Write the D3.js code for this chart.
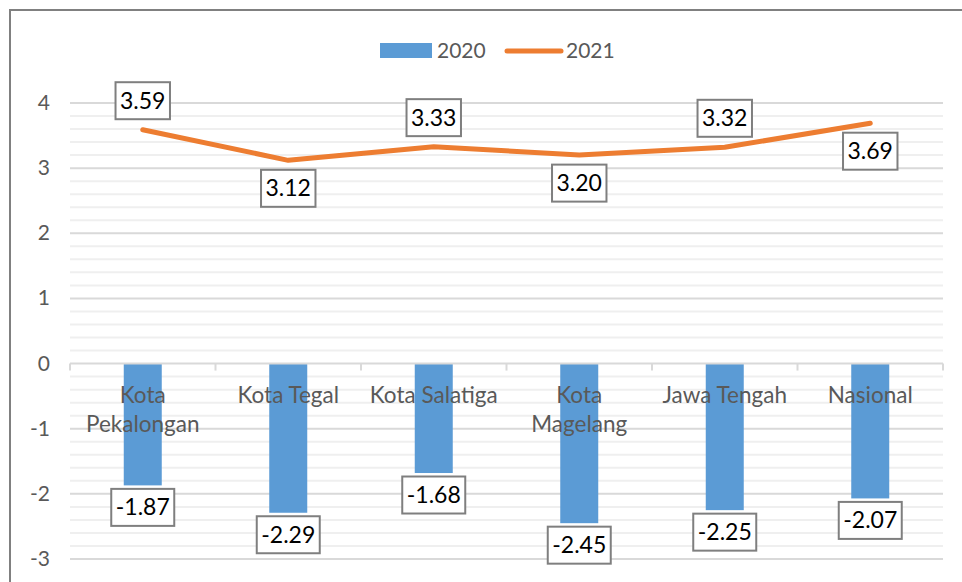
<!DOCTYPE html>
<html>
<head>
<meta charset="utf-8">
<script src="https://cdn.jsdelivr.net/npm/d3@7"></script>
<style>
  body { margin: 0; background: #fff; }
  svg { display: block; font-family: Lato, "Open Sans", sans-serif; }
</style>
</head>
<body>
<div id="chart"></div>
<script>
// data
const categories = ["Kota Pekalongan", "Kota Tegal", "Kota Salatiga", "Kota Magelang", "Jawa Tengah", "Nasional"];
const values2020 = [-1.87, -2.29, -1.68, -2.45, -2.25, -2.07];
const values2021 = [3.59, 3.12, 3.33, 3.20, 3.32, 3.69];
const yTicks = [-3, -2, -1, 0, 1, 2, 3, 4];
const seriesNames = ["2020", "2021"];

const width = 962, height = 582;
const blue = "#5b9bd5", orange = "#ed7d31";

const svg = d3.select("#chart").append("svg")
    .attr("width", width)
    .attr("height", height);

// outer chart frame (runs off the right and bottom edges)
svg.append("rect")
    .attr("x", 10).attr("y", 10)
    .attr("width", 1000).attr("height", 1000)
    .attr("fill", "#fff")
    .attr("stroke", "#808080")
    .attr("stroke-width", 2);

const x = d3.scaleBand()
    .domain(categories)
    .range([70, 943]);

const y = d3.scaleLinear()
    .domain([-3, 4])
    .range([559, 103]);

// gridlines: minor every 0.2, major every 1
const minor = d3.range(-30, 41, 2).map(d => d / 10).filter(d => !yTicks.includes(Math.round(d * 10) / 10));
const g = svg.append("g");

g.selectAll(".minor")
    .data(minor)
    .enter()
    .append("line")
    .attr("x1", 70).attr("x2", 943)
    .attr("y1", d => y(d)).attr("y2", d => y(d))
    .attr("stroke", "#efefef")
    .attr("stroke-width", 2);

g.selectAll(".major")
    .data(yTicks.filter(d => d !== 0))
    .enter()
    .append("line")
    .attr("x1", 70).attr("x2", 943)
    .attr("y1", d => y(d)).attr("y2", d => y(d))
    .attr("stroke", "#d9d9d9")
    .attr("stroke-width", 2);

// y axis tick labels
g.selectAll(".ytick")
    .data(yTicks)
    .enter()
    .append("text")
    .attr("x", 50)
    .attr("y", d => y(d) + 7)
    .attr("text-anchor", "end")
    .attr("fill", "#595959")
    .attr("font-size", 21)
    .text(d => d);

// bars (2020)
const barW = 38;
g.selectAll(".bar")
    .data(values2020)
    .enter()
    .append("rect")
    .attr("x", (d, i) => x(categories[i]) + x.bandwidth() / 2 - barW / 2)
    .attr("y", d => y(Math.max(0, d)))
    .attr("width", barW)
    .attr("height", d => Math.abs(y(d) - y(0)))
    .attr("fill", blue);

// zero axis line with tick marks
g.append("line")
    .attr("x1", 70).attr("x2", 943)
    .attr("y1", y(0)).attr("y2", y(0))
    .attr("stroke", "#d9d9d9")
    .attr("stroke-width", 2);

const tickX = categories.map(c => x(c)).concat([x.range()[1]]);
g.selectAll(".xtick")
    .data(tickX)
    .enter()
    .append("line")
    .attr("x1", d => d).attr("x2", d => d)
    .attr("y1", y(0)).attr("y2", y(0) + 7)
    .attr("stroke", "#d9d9d9")
    .attr("stroke-width", 2);

// category labels, wrapped like the original
const wrapped = {"Kota Pekalongan": ["Kota", "Pekalongan"], "Kota Magelang": ["Kota", "Magelang"]};
categories.forEach(c => {
    const lines = wrapped[c] || [c];
    const t = g.append("text")
        .attr("text-anchor", "middle")
        .attr("fill", "#595959")
        .attr("font-size", 22.5);
    lines.forEach((l, j) => {
        t.append("tspan")
            .attr("x", x(c) + x.bandwidth() / 2)
            .attr("y", y(0) + 39 + j * 29)
            .text(l);
    });
});

// line (2021)
const line = d3.line()
    .x((d, i) => x(categories[i]) + x.bandwidth() / 2)
    .y(d => y(d));

g.append("path")
    .datum(values2021)
    .attr("d", line)
    .attr("fill", "none")
    .attr("stroke", orange)
    .attr("stroke-width", 5)
    .attr("stroke-linecap", "round")
    .attr("stroke-linejoin", "round");

// boxed data labels
function boxLabel(cx, cy, txt) {
    const lg = g.append("g");
    const r = lg.append("rect");
    const t = lg.append("text")
        .attr("x", cx)
        .attr("y", cy + 8)
        .attr("text-anchor", "middle")
        .attr("fill", "#000")
        .attr("font-size", 23)
        .text(txt);
    const w = t.node().getComputedTextLength() + 9;
    const h = 37;
    r.attr("x", cx - w / 2).attr("y", cy - h / 2)
        .attr("width", w).attr("height", h)
        .attr("fill", "#fff")
        .attr("stroke", "#7f7f7f")
        .attr("stroke-width", 2);
}

values2020.forEach((d, i) => {
    boxLabel(x(categories[i]) + x.bandwidth() / 2, y(d) + 22, d.toFixed(2));
});

values2021.forEach((d, i) => {
    const off = i % 2 === 0 ? -29 : 28;
    boxLabel(x(categories[i]) + x.bandwidth() / 2, y(d) + off, d.toFixed(2));
});

// legend
const legend = svg.append("g");
legend.append("rect")
    .attr("x", 380).attr("y", 43)
    .attr("width", 52).attr("height", 15)
    .attr("fill", blue);
legend.append("text")
    .attr("x", 437).attr("y", 58)
    .attr("fill", "#595959")
    .attr("font-size", 21)
    .text(seriesNames[0]);
legend.append("line")
    .attr("x1", 507).attr("x2", 561)
    .attr("y1", 51).attr("y2", 51)
    .attr("stroke", orange)
    .attr("stroke-width", 5)
    .attr("stroke-linecap", "round");
legend.append("text")
    .attr("x", 566).attr("y", 58)
    .attr("fill", "#595959")
    .attr("font-size", 21)
    .text(seriesNames[1]);
</script>
</body>
</html>
